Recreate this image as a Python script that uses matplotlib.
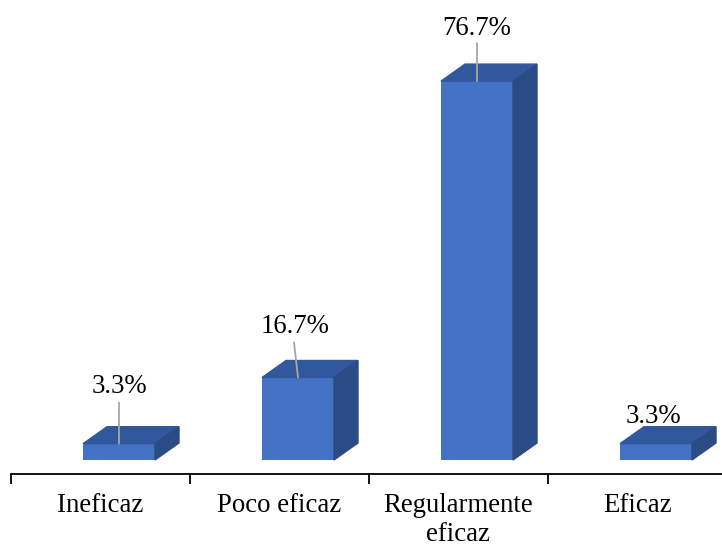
import matplotlib.pyplot as plt
import numpy as np
from matplotlib.patches import Polygon

categories = ['Ineficaz', 'Poco eficaz', 'Regularmente\neficaz', 'Eficaz']
values = [3.3, 16.7, 76.7, 3.3]
labels = ['3.3%', '16.7%', '76.7%', '3.3%']

plt.rcParams['font.family'] = ['Liberation Serif', 'DejaVu Serif']

W, H = 722, 544
fig = plt.figure(figsize=(W / 100, H / 100), dpi=100)

# axes geometry in pixels
left_px, spine_px = 11, 474
cat_px = 179.0           # px per category
pct_px = 4.94            # px per percent
floor_px = 460           # bar floor (y=0)
ax = fig.add_axes([left_px / W, (H - spine_px) / H, (W - left_px) / W, spine_px / H])
ax.set_xlim(0, (W - left_px) / cat_px)
y0 = -(spine_px - floor_px) / pct_px
ax.set_ylim(y0, y0 + spine_px / pct_px)

front = '#4472C4'
top_c = '#31589C'
side_c = '#2B4B84'

bw = 72 / cat_px
dx = 24 / cat_px
dy = 17 / pct_px
off = 72 / cat_px

for i, v in enumerate(values):
    x0 = i + off
    ax.bar(x0, v, width=bw, align='edge', color=front, zorder=3)
    ax.add_patch(Polygon([(x0, v), (x0 + bw, v), (x0 + bw + dx, v + dy), (x0 + dx, v + dy)],
                         closed=True, color=top_c, zorder=3))
    ax.add_patch(Polygon([(x0 + bw, 0), (x0 + bw + dx, dy), (x0 + bw + dx, v + dy), (x0 + bw, v)],
                         closed=True, color=side_c, zorder=3))

# data labels: (text dx, text dy, line length, line top dx) in pixels
lab_off = [(0, 51, 41, 0), (-3, 45, 35, -4), (0, 46, 38, 0), (-3, 21, 0, 0)]
for i, (v, t) in enumerate(zip(values, labels)):
    xc = i + off + bw / 2
    tx, ty, ll, lx = lab_off[i]
    if ll > 0:
        ax.annotate('', xy=(xc, v), xytext=(lx, ll), textcoords='offset pixels',
                    arrowprops=dict(arrowstyle='-', color='#A6A6A6', lw=1.3,
                                    shrinkA=0, shrinkB=0), zorder=4)
    ax.annotate(t, xy=(xc, v), xytext=(tx, ty), textcoords='offset pixels',
                ha='center', va='baseline', fontsize=19.3, color='black', zorder=5)

for s in ['top', 'right', 'left']:
    ax.spines[s].set_visible(False)
ax.spines['bottom'].set_linewidth(1.3)
ax.set_yticks([])
ax.set_xticks(np.arange(len(categories)))
ax.set_xticklabels([])
ax.tick_params(axis='x', which='major', length=7, width=1.3, direction='out')
ax.set_xticks(np.arange(len(categories)) + 0.5, minor=True)
ax.set_xticklabels(categories, minor=True, fontsize=19.3, linespacing=1.2, color='black')
ax.tick_params(axis='x', which='minor', length=0, pad=14)

fig.savefig('out.png', dpi=100)
